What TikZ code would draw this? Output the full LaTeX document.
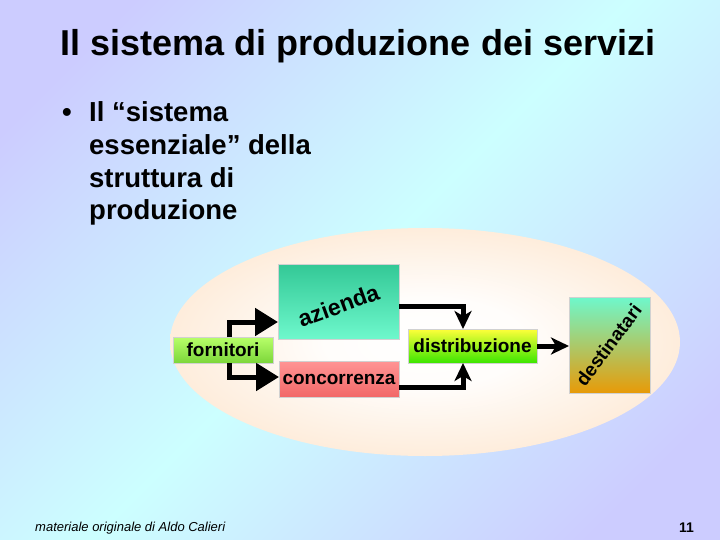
\documentclass[tikz,border=0pt]{standalone}
\usepackage{fontspec}
\setmainfont{Liberation Sans}
\usetikzlibrary{arrows.meta,calc}
\definecolor{lav}{HTML}{CCCCFF}
\definecolor{cya}{HTML}{CCFFFF}
\definecolor{peach}{HTML}{FCD2A8}
\definecolor{aztop}{HTML}{33C896}
\definecolor{azbot}{HTML}{6EF8CC}
\definecolor{fotop}{HTML}{B8FF6A}
\definecolor{fobot}{HTML}{7CD63A}
\definecolor{cotop}{HTML}{FF9494}
\definecolor{cobot}{HTML}{F26868}
\definecolor{ditop}{HTML}{FFFF3A}
\definecolor{dibot}{HTML}{3CE600}
\definecolor{detop}{HTML}{6EF8CC}
\definecolor{debot}{HTML}{E89A08}
\pgfdeclareradialshading{ellsh}{\pgfpoint{0bp}{0bp}}{color(0bp)=(white); color(10bp)=(white!95!peach); color(50bp)=(peach)}
\pgfdeclareverticalshading{bgsh}{100bp}{color(0bp)=(lav); color(22bp)=(lav); color(50bp)=(cya); color(78bp)=(lav); color(100bp)=(lav)}
\tikzset{
  box/.style={draw=black!18, line width=0.5pt, inner sep=0pt, outer sep=0pt},
  boxtxt/.style={font=\bfseries\fontsize{19}{22}\selectfont, text=black, inner sep=0pt},
  conn/.style={line width=5pt, line join=miter, black},
  bigtip/.style={-{Triangle[length=23pt,width=27pt]}},
  smalltip/.style={-{Stealth[length=18pt,width=17pt,inset=5pt]}},
  bultxt/.style={anchor=base west, font=\bfseries\fontsize{27.5}{32}\selectfont, inner sep=0pt},
}
\begin{document}
\begin{tikzpicture}[x=1pt,y=-1pt]
\path[use as bounding box, shading=bgsh, shading angle=45] (0,0) rectangle (720,540);
% title
\node[font=\bfseries\fontsize{36}{42}\selectfont, inner sep=0pt, anchor=base] (title) at (358,56) {Il sistema di produzione dei servizi};
% bullet text
\node[bultxt] (bul) at (62,122) {•};
\node[bultxt] (l1) at (89,122) {Il “sistema};
\node[bultxt] (l2) at (89,155) {essenziale” della};
\node[bultxt] (l3) at (89,187.5) {struttura di};
\node[bultxt] (l4) at (89,220) {produzione};
% ellipse
\path[shading=ellsh] (425,342) ellipse [x radius=255, y radius=114];
% boxes
\node[box, minimum width=121pt, minimum height=75pt, top color=aztop, bottom color=azbot] (az) at (338.5,301.5) {};
\node[box, minimum width=100pt, minimum height=26pt, top color=fotop, bottom color=fobot] (forn) at (223,350) {};
\node[box, minimum width=120pt, minimum height=36pt, top color=cotop, bottom color=cobot] (conc) at (339,379) {};
\node[box, minimum width=129pt, minimum height=34pt, top color=ditop, bottom color=dibot] (dist) at (472.5,346) {};
\node[box, minimum width=81pt, minimum height=96pt, top color=detop, bottom color=debot] (dest) at (609.5,345) {};
% texts
\node[boxtxt, font=\bfseries\fontsize{23}{26}\selectfont, rotate=20] (aztxt) at ($(az.center)+(0,4)$) {azienda};
\node[boxtxt] (fotxt) at (forn.center) {fornitori};
\node[boxtxt] (cotxt) at (conc.center) {concorrenza};
\node[boxtxt] (ditxt) at (dist.center) {distribuzione};
\node[boxtxt, font=\bfseries\fontsize{19}{22}\selectfont, rotate=53] (detxt) at ($(dest.center)+(-1,0)$) {destinatari};
% connectors
\draw[conn, bigtip] ($(forn.north)+(6,0)$) |- ($(az.west)+(0,20.5)$);
\draw[conn, bigtip] ($(forn.south)+(6,0)$) |- ($(conc.west)+(0,-2)$);
\draw[conn, smalltip] ($(az.east)+(0,4.5)$) -| ($(dist.north)+(-9.5,0)$);
\draw[conn, smalltip] ($(conc.east)+(0,8)$) -| ($(dist.south)+(-9.5,0)$);
\draw[conn, smalltip] (dist.east) -- (dest.west |- dist.east);
% footer
\node[anchor=base west, font=\itshape\fontsize{13}{15}\selectfont, inner sep=0pt] (foot) at (35,531) {materiale originale di Aldo Calieri};
\node[anchor=base east, font=\bfseries\fontsize{14}{16}\selectfont, inner sep=0pt] (pnum) at (694,532) {11};
\end{tikzpicture}
\end{document}
